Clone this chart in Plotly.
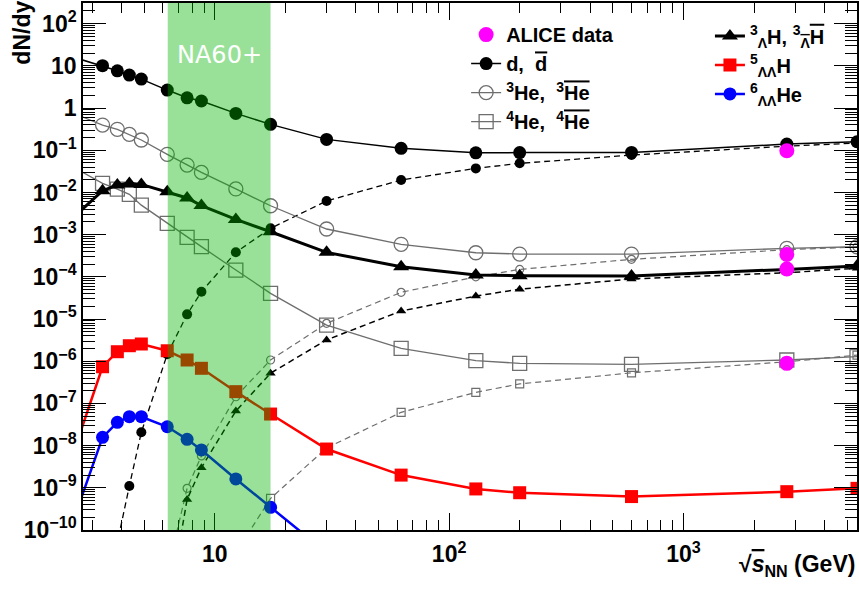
import math
import plotly.graph_objects as go

# ---------------- data ----------------
energy = [2.4, 3.32, 3.84, 4.32, 4.86, 6.27, 7.62, 8.77, 12.3, 17.3, 30, 62.4, 130, 200, 600, 2760, 5500]

d_yield = [17.2, 10.1, 7.65, 6.05, 4.86, 2.67, 1.75, 1.47, 0.748, 0.411, 0.181, 0.111, 0.087, 0.088, 0.089, 0.140, 0.159]
dbar_yield = [None, 1e-13, 5e-11, 1.1e-9, 2.07e-8, 1.46e-6, 1.29e-5, 4.43e-5, 3.81e-4, 1.41e-3, 6.3e-3, 0.0197, 0.0372, 0.049, 0.0769, 0.125, 0.148]

he3_yield = [0.82, 0.395, 0.313, 0.238, 0.175, 0.080, 0.0446, 0.0299, 0.0121, 0.00484, 1.36e-3, 5.9e-4, 3.72e-4, 3.47e-4, 3.47e-4, 4.73e-4, 5.17e-4]
he3bar_yield = [None, None, None, None, None, 1e-11, 9.7e-10, 5.7e-9, 1.44e-7, 1.07e-6, 7.9e-6, 4.3e-5, 1.0e-4, 1.5e-4, 2.6e-4, 4.4e-4, 5.1e-4]

he4_yield = [0.0446, 0.0164, 0.0120, 9.0e-3, 5.0e-3, 1.85e-3, 8.6e-4, 5.2e-4, 1.45e-4, 4.06e-5, 7.2e-6, 2.02e-6, 1.03e-6, 8.9e-7, 8.4e-7, 1.07e-6, 1.28e-6]
he4bar_yield = [None, None, None, None, None, None, None, None, 2.9e-11, 5.6e-10, 8.8e-9, 6.15e-8, 1.83e-7, 2.9e-7, 5.3e-7, 9.7e-7, 1.4e-6]

h3l_yield = [2.1e-3, 0.011, 0.0150, 0.0164, 0.0155, 0.0104, 7.4e-3, 4.9e-3, 2.3e-3, 1.17e-3, 3.8e-4, 1.74e-4, 1.10e-4, 1.06e-4, 1.05e-4, 1.5e-4, 1.8e-4]
h3lbar_yield = [None, None, None, None, None, 1e-12, 5.3e-10, 3.0e-9, 6.6e-8, 5.2e-7, 3.2e-6, 1.55e-5, 3.5e-5, 5.1e-5, 8.9e-5, 1.25e-4, 1.6e-4]

h5ll_yield = [3.6e-9, 7.4e-7, 1.68e-6, 2.33e-6, 2.56e-6, 1.77e-6, 1.07e-6, 6.8e-7, 1.9e-7, 5.6e-8, 8.3e-9, 2.0e-9, 9.4e-10, 7.65e-10, 6.2e-10, 8.1e-10, 9.7e-10]
he6ll_yield = [9.3e-11, 1.57e-8, 3.57e-8, 4.84e-8, 4.84e-8, 2.8e-8, 1.41e-8, 7.9e-9, 1.62e-9, 3.45e-10, 2.9e-11, None, None, None, None, None, None]

alice_energy = [2760, 2760, 2760, 2760]
alice_yield = [0.097, 3.4e-4, 1.53e-4, 8.9e-7]

na60_range = [6.3, 17.3]

x_ticks = [10, 100, 1000]
x_ticktext = ["10", "10<sup>2</sup>", "10<sup>3</sup>"]
y_exponents = list(range(-10, 3))
y_ticks = [10.0 ** k for k in y_exponents]
y_ticktext = [("1" if k == 0 else "10" if k == 1 else "10<sup>%s</sup>" % (("\u2212%d" % -k) if k < 0 else k))
              for k in y_exponents]

# ---------------- styling ----------------
FONT = "Liberation Sans, Arial, Helvetica, sans-serif"
GRAY = "#6e6e6e"
OL = '<span style="text-decoration:overline">'

fig = go.Figure()

def add(y, name, color, symbol, size, width, dash="solid", legend="legend", rank=1000, mwidth=0, show=False):
    fig.add_trace(go.Scatter(
        x=energy, y=y, mode="lines+markers", name=name,
        line=dict(color=color, width=width, dash=dash),
        marker=dict(symbol=symbol, size=size, color=color, line=dict(width=mwidth, color=color)),
        showlegend=show, legend=legend, legendrank=rank, connectgaps=False,
    ))

# antiparticles (dashed)
add(dbar_yield, "dbar", "black", "circle", 10, 1.3, dash="6px,4px")
add(he3bar_yield, "he3bar", GRAY, "circle-open", 8, 1.2, dash="6px,4px", mwidth=1.2)
add(he4bar_yield, "he4bar", GRAY, "square-open", 8, 1.2, dash="6px,4px", mwidth=1.2)
add(h3lbar_yield, "h3lbar", "black", "triangle-up", 9, 1.5, dash="6px,4px")

# particles (solid)
add(d_yield, "d,  " + OL + "d</span>", "black", "circle", 13, 1.5, rank=2, show=True)
add(he3_yield, "<sup>3</sup>He,  <sup>3</sup>" + OL + "He</span>", GRAY, "circle-open", 14, 1.3,
    rank=3, mwidth=1.3, show=True)
add(he4_yield, "<sup>4</sup>He,  <sup>4</sup>" + OL + "He</span>", GRAY, "square-open", 14, 1.3,
    rank=4, mwidth=1.3, show=True)
add(h3l_yield, "<sup>3</sup><sub>\u039b</sub>H, <sup>3</sup><sub>" + OL + "\u039b</span></sub>" + OL + "H</span>",
    "black", "triangle-up", 14, 3, legend="legend2", rank=1, show=True)
add(h5ll_yield, "<sup>5</sup><sub>\u039b\u039b</sub>H", "#ff0000", "square", 13, 2.5, legend="legend2", rank=2, show=True)
add(he6ll_yield, "<sup>6</sup><sub>\u039b\u039b</sub>He", "#0000ff", "circle", 13, 2.5, legend="legend2", rank=3, show=True)

fig.add_trace(go.Scatter(
    x=alice_energy, y=alice_yield, mode="markers", name="ALICE data",
    marker=dict(symbol="circle", size=15, color="#ff00ff"),
    legend="legend", legendrank=1, showlegend=True,
))

# NA60+ band
fig.add_shape(type="rect", xref="x", yref="paper", x0=na60_range[0], x1=na60_range[1], y0=0, y1=1,
              fillcolor="rgba(0,180,0,0.4)", line=dict(width=0), layer="above")
fig.add_annotation(text="NA60+", xref="x", yref="paper",
                   x=math.log10(math.sqrt(na60_range[0] * na60_range[1])), y=0.932,
                   showarrow=False, font=dict(family="DejaVu Sans", size=24, color="white"))

# axis titles
fig.add_annotation(text="dN/dy", xref="paper", yref="paper", x=-0.079, y=1.008,
                   xanchor="center", yanchor="top", textangle=-90, showarrow=False,
                   font=dict(family=FONT, size=23, color="black", weight="bold"))
fig.add_annotation(text="\u221a" + OL + "<i>s</i></span><sub>NN</sub> (GeV)", xref="paper", yref="paper",
                   x=1.0, y=-0.068, xanchor="right", yanchor="middle", showarrow=False,
                   font=dict(family=FONT, size=23, color="black", weight="bold"))

axis_common = dict(showgrid=False, zeroline=False, showline=True, linecolor="black", linewidth=1.5,
                   mirror="allticks", ticks="inside", tickcolor="black", tickwidth=1.3, automargin=False,
                   tickfont=dict(family=FONT, size=23, color="black", weight="bold"))

fig.update_xaxes(type="log", range=[math.log10(2.74), math.log10(5500)],
                 tickmode="array", tickvals=x_ticks, ticktext=x_ticktext, ticklen=17,
                 ticklabelstandoff=3,
                 minor=dict(ticks="inside", ticklen=10, dtick="D1", tickcolor="black", tickwidth=1.3),
                 **axis_common)
fig.update_yaxes(type="log", range=[-10, 2.49],
                 tickmode="array", tickvals=y_ticks, ticktext=y_ticktext, ticklen=23,
                 minor=dict(ticks="inside", ticklen=12, dtick="D1", tickcolor="black", tickwidth=1.3),
                 **axis_common)

legend_common = dict(bgcolor="rgba(0,0,0,0)", borderwidth=0, xanchor="left", yanchor="top",
                     font=dict(family=FONT, size=20, color="black", weight="bold"),
                     traceorder="normal", tracegroupgap=0, itemsizing="trace")
fig.update_layout(
    template="none",
    width=859, height=592,
    margin=dict(l=83, r=2, t=3, b=62, autoexpand=False),
    paper_bgcolor="white", plot_bgcolor="white",
    font=dict(family=FONT, color="black"),
    legend=dict(x=0.495, y=0.977, **legend_common),
    legend2=dict(x=0.81, y=0.9745, **legend_common),
)

fig.write_html("out.html", config={"displayModeBar": False},
               post_script="document.body.style.margin='0';document.body.style.overflow='hidden';")
